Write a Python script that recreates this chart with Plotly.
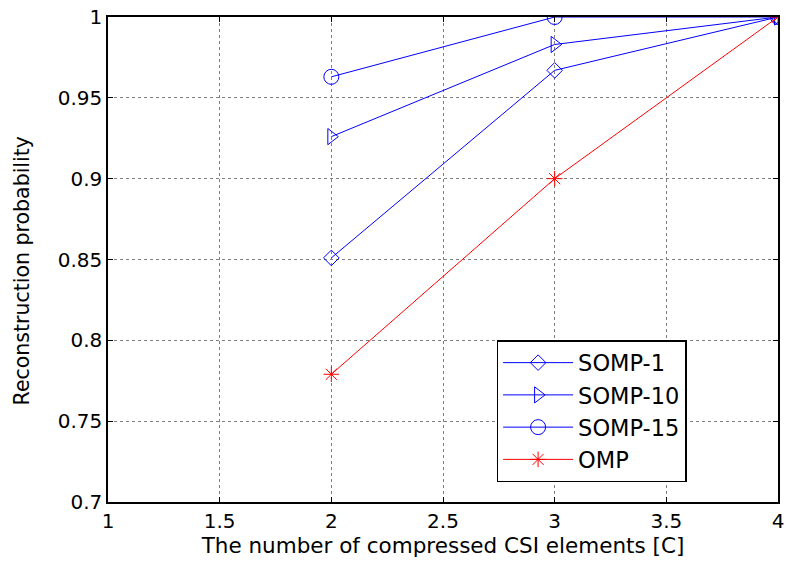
import plotly.graph_objects as go

x_vals = [2, 3, 4]
somp1 = [0.851, 0.967, 1.0]
somp10 = [0.926, 0.983, 1.0]
somp15 = [0.963, 1.0, 1.0]
omp = [0.779, 0.900, 1.0]

x_ticks = [1, 1.5, 2, 2.5, 3, 3.5, 4]
x_ticktext = ["1", "1.5", "2", "2.5", "3", "3.5", "4"]
y_ticks = [0.7, 0.75, 0.8, 0.85, 0.9, 0.95, 1.0]
y_ticktext = ["0.7", "0.75", "0.8", "0.85", "0.9", "0.95", "1"]

FONT = "DejaVu Sans, Liberation Sans, Arial"

fig = go.Figure()
series = [
    ("SOMP-1", somp1, "diamond-open", 12, "#0000ff"),
    ("SOMP-10", somp10, "triangle-right-open", 14, "#0000ff"),
    ("SOMP-15", somp15, "circle-open", 15, "#0000ff"),
    ("OMP", omp, "asterisk-open", 13, "#ff0000"),
]
for name, ys, sym, sz, col in series:
    fig.add_trace(go.Scatter(
        x=x_vals, y=ys, name=name, mode="lines+markers",
        line=dict(color=col, width=1),
        marker=dict(symbol=sym, size=sz, color=col, line=dict(color=col, width=1)),
    ))

axis_common = dict(
    showline=True, linecolor="black", linewidth=1.5, mirror="allticks",
    ticks="inside", ticklen=5, tickcolor="black",
    showgrid=True, gridcolor="#7f7f7f", griddash="dot", gridwidth=1,
    zeroline=False, tickfont=dict(family=FONT, size=20, color="black"),
    automargin=False,
)

fig.update_xaxes(range=[1, 4], tickvals=x_ticks, ticktext=x_ticktext,
                 title=dict(text="The number of compressed CSI elements [C]",
                            font=dict(family=FONT, size=21.5, color="black"), standoff=6),
                 **axis_common)
fig.update_yaxes(range=[0.7, 1.0], tickvals=y_ticks, ticktext=y_ticktext,
                 **axis_common)

fig.add_annotation(
    text="Reconstruction probability", textangle=-90,
    xref="paper", yref="paper", x=-0.128, y=0.476,
    xanchor="center", yanchor="middle", showarrow=False,
    font=dict(family=FONT, size=20.5, color="black"),
)

fig.update_layout(
    width=790, height=570,
    margin=dict(l=108, r=12, t=17, b=68),
    paper_bgcolor="white", plot_bgcolor="white",
    showlegend=True,
    legend=dict(x=0.58, y=0.334, xanchor="left", yanchor="top",
                bgcolor="white", bordercolor="black", borderwidth=1.5,
                font=dict(family=FONT, size=22.5, color="black"),
                itemwidth=70, tracegroupgap=0),
)

fig.write_html("out.html")
